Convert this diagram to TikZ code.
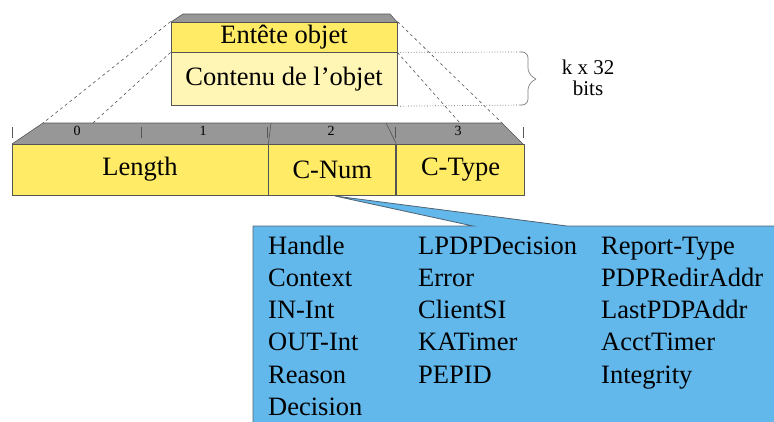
\documentclass[tikz,border=0pt]{standalone}
\usepackage{fontspec}
\setmainfont{Liberation Serif}
\definecolor{yel}{HTML}{FFEB66}
\definecolor{lyel}{HTML}{FFF5B5}
\definecolor{gbar}{HTML}{979797}
\definecolor{blu}{HTML}{62B7EB}
\definecolor{edge}{HTML}{555555}
\definecolor{bedge}{HTML}{4F6373}
\begin{document}
\begin{tikzpicture}[x=1pt,y=-1pt,
  field/.style={draw=edge,line width=0.8pt,fill=yel,inner sep=0pt,font=\fontsize{26.5}{30}\selectfont},
  bitnum/.style={inner sep=0pt,font=\fontsize{14}{16}\selectfont},
  item/.style={anchor=base west,inner sep=0pt,font=\fontsize{26.5}{30}\selectfont},
  tick/.style={draw=edge,line width=0.6pt},
  guide/.style={draw=edge,dashed,line width=0.6pt}]
\useasboundingbox (0,0) rectangle (774,421);
\clip (0,0) rectangle (774,421);
% top header object
\fill[gbar] (171,22) -- (183,14) -- (390,14) -- (397,22) -- cycle;
\draw[edge,line width=0.6pt] (171,22) -- (183,14) -- (390,14) -- (397,22);
\node[field,minimum width=226pt,minimum height=30pt] (ent) at (284,37) {Entête objet};
\node[field,fill=lyel,minimum width=226pt,minimum height=53pt,anchor=north] (cont) at (ent.south) {Contenu de l’objet};
% bottom bar gray
\fill[gbar] (12,144) -- (43,123) -- (502,123) -- (523,144) -- cycle;
\draw[edge,line width=0.6pt] (12,144) -- (43,123) -- (502,123) -- (523,144);
\node[field,minimum width=256pt,minimum height=51pt] (len) at (140,169.5) {Length};
\node[field,minimum width=127pt,minimum height=51pt,anchor=west] (cnum) at (len.east) {C-Num};
\node[field,minimum width=128pt,minimum height=51pt,anchor=west] (ctype) at (cnum.east) {C-Type};
% ticks
\foreach \x in {12,141,267,395,523} \draw[tick] (\x,127) -- (\x,138);
\draw[tick] (271,123) -- (cnum.north west);
\draw[tick] (386,123) -- (ctype.north west);
\node[bitnum] (b0) at (77,131) {0};
\node[bitnum] (b1) at (203,131) {1};
\node[bitnum] (b2) at (331,131) {2};
\node[bitnum] (b3) at (458,131) {3};
% dashed guides
\coordinate (g1) at (43,123);
\coordinate (g2) at (93,123);
\coordinate (g3) at (460,123);
\coordinate (g4) at (502,123);
\draw[guide] (ent.north west) -- (g1);
\draw[guide] (cont.north west) -- (g2);
\draw[guide] (ent.north east) -- (g4);
\draw[guide] (cont.north east) -- (g3);
% brace
\draw[edge,dotted,line width=0.7pt] (cont.north east) -- (522,52);
\draw[edge,dotted,line width=0.7pt] (cont.south east) -- (522,105);
\draw[gray,line width=0.7pt,rounded corners=6pt] (520,52) -- (528,52) -- (528,74) -- (536,79);
\draw[gray,line width=0.7pt,rounded corners=6pt] (536,79) -- (528,84) -- (528,105) -- (520,105);
\node[inner sep=0pt,align=center,font=\fontsize{21}{21}\selectfont] (kb) at (588,78) {k x 32\\bits};
% callout
\coordinate (tip) at (cnum.south);
\filldraw[fill=blu,draw=bedge,line width=0.8pt] (253,440) -- (253,226) -- (473,226) -- (335,196) -- (567,226) -- (800,226) -- (800,440) -- cycle;
\foreach \t/\x/\y/\n in {Handle/268/254/a1,Context/268/286/a2,IN-Int/268/318/a3,OUT-Int/268/350/a4,Reason/268/383/a5,Decision/268/415/a6,
  LPDPDecision/418/254/b1,Error/418/286/b2,ClientSI/418/318/b3,KATimer/418/350/b4,PEPID/418/383/b5,
  Report-Type/601/254/c1,PDPRedirAddr/601/286/c2,LastPDPAddr/601/318/c3,AcctTimer/601/350/c4,Integrity/601/383/c5}
  \node[item] (\n) at (\x,\y) {\t};
\end{tikzpicture}
\end{document}
